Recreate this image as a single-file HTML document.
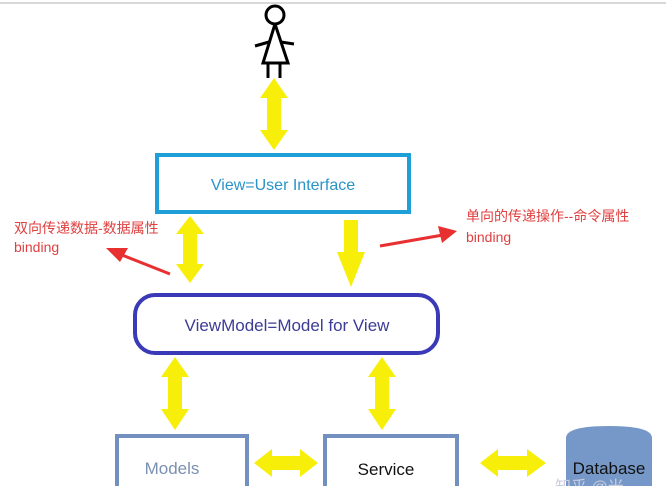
<!DOCTYPE html>
<html><head><meta charset="utf-8"><style>
html,body{margin:0;padding:0;background:#fff;width:666px;height:486px;overflow:hidden}
svg{display:block}
text{font-family:"Liberation Sans","Noto Sans CJK SC",sans-serif}
</style></head><body>
<svg width="666" height="486" viewBox="0 0 666 486" xmlns="http://www.w3.org/2000/svg">
<line x1="0" y1="3" x2="666" y2="3" stroke="#d8d8d8" stroke-width="2"/>
<g stroke="#000" stroke-width="3" fill="none">
<circle cx="275" cy="15" r="9"/>
<polyline points="275,24 263,63 288,63 275,24"/>
<line x1="255" y1="46" x2="269" y2="42"/>
<line x1="281" y1="42" x2="294" y2="44"/>
<line x1="268" y1="63" x2="268" y2="78"/>
<line x1="280" y1="63" x2="280" y2="78"/>
</g>
<polygon points="274,78 288,98 281,98 281,130 288,130 274,150 260,130 267,130 267,98 260,98" fill="#f7ef0a"/>
<rect x="157" y="155" width="252" height="57" fill="#fff" stroke="#1e9fd8" stroke-width="4"/>
<text x="283" y="190" font-size="16" fill="#2a93c8" text-anchor="middle">View=User Interface</text>
<polygon points="190,216 204,234 197,234 197,264 204,264 190,283 176,264 183,264 183,234 176,234" fill="#f7ef0a"/>
<polygon points="344,220 358,220 358,252 365,252 351,287 337,252 344,252" fill="#f7ef0a"/>
<text x="14" y="233" font-size="14" fill="#e04040">双向传递数据-数据属性</text>
<text x="14" y="252" font-size="14" fill="#e04040">binding</text>
<line x1="170" y1="274" x2="122" y2="255" stroke="#e83030" stroke-width="3"/>
<polygon points="106,248 128,248 120,262" fill="#e83030"/>
<text x="466" y="221" font-size="14" fill="#e04040">单向的传递操作--命令属性</text>
<text x="466" y="242" font-size="14" fill="#e04040">binding</text>
<line x1="380" y1="246" x2="443" y2="235" stroke="#e83030" stroke-width="3"/>
<polygon points="457,231 438,226 442,243" fill="#e83030"/>
<rect x="135" y="295" width="303" height="58" rx="20" ry="20" fill="#fff" stroke="#3a3ab8" stroke-width="4"/>
<text x="287" y="331" font-size="17" fill="#3c3c96" text-anchor="middle">ViewModel=Model for View</text>
<polygon points="175,357 189,377 182,377 182,409 189,409 175,430 161,409 168,409 168,377 161,377" fill="#f7ef0a"/>
<polygon points="382,357 396,377 389,377 389,409 396,409 382,430 368,409 375,409 375,377 368,377" fill="#f7ef0a"/>
<rect x="117" y="436" width="130" height="60" fill="#fff" stroke="#7490c0" stroke-width="4"/>
<text x="172" y="474" font-size="17" fill="#7a90b0" text-anchor="middle">Models</text>
<rect x="325" y="436" width="132" height="60" fill="#fff" stroke="#7490c0" stroke-width="4"/>
<text x="386" y="475" font-size="17" fill="#111" text-anchor="middle">Service</text>
<polygon points="254,463 272,449 272,456 300,456 300,449 318,463 300,477 300,470 272,470 272,477" fill="#f7ef0a"/>
<polygon points="480,463 498,449 498,456 527,456 527,449 546,463 527,477 527,470 498,470 498,477" fill="#f7ef0a"/>
<path d="M566,438 Q566,426 609,426 Q652,426 652,438 L652,486 L566,486 Z" fill="#7598c8"/>
<text x="609" y="474" font-size="17" fill="#111" text-anchor="middle">Database</text>
<text x="555" y="492" font-size="16" fill="#ccd">知乎 @米</text>
</svg>
</body></html>
